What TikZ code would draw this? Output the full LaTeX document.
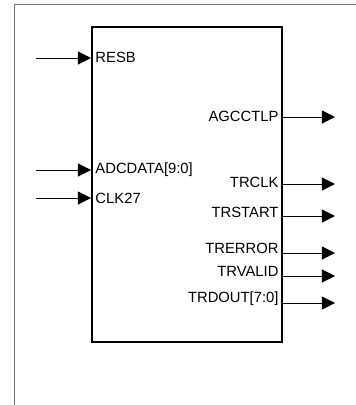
\documentclass[tikz,border=0pt]{standalone}
\usepackage{fontspec}
\setmainfont{Liberation Sans}
\usetikzlibrary{arrows.meta}

\begin{document}
\begin{tikzpicture}[x=0.75pt, y=-0.75pt, line width=0.75pt,
  % port arrows: thin line, filled head
  pin/.style={-{Triangle[length=9.75pt, width=9.75pt]}},
  % block outline
  block/.style={draw, line width=1.5pt, minimum width=142.5pt, minimum height=236.25pt,
                inner sep=0pt},
  % port labels
  inlbl/.style={anchor=west, inner xsep=3pt, inner ysep=0pt, font=\fontsize{11.1}{13}\selectfont},
  outlbl/.style={anchor=east, inner xsep=3pt, inner ysep=0pt, font=\fontsize{11.1}{13}\selectfont}
]
  \useasboundingbox (0,0) rectangle (356,405);

  % Outer frame (only top and left edges visible)
  \coordinate (frame) at (15,4.5);
  \draw[black!55] (frame -| 356,0) -- (frame) -- (frame |- 0,405);

  % Main block
  \node[block] (blk) at (187,184.5) {};

  % Input labels
  \node[inlbl] (resb)    at (blk.west |- 0,57)  {RESB};
  \node[inlbl] (adcdata) at (blk.west |- 0,170) {ADCDATA[9:0]};
  \node[inlbl] (clk27)   at (blk.west |- 0,198) {CLK27};

  % Output labels
  \node[outlbl] (agcctlp) at (blk.east |- 0,116)   {AGCCTLP};
  \node[outlbl] (trclk)   at (blk.east |- 0,182.5) {TRCLK};
  \node[outlbl] (trstart) at (blk.east |- 0,212.5) {TRSTART};
  \node[outlbl] (trerror) at (blk.east |- 0,248.5) {TRERROR};
  \node[outlbl] (trvalid) at (blk.east |- 0,271.5) {TRVALID};
  \node[outlbl] (trdout)  at (blk.east |- 0,299)   {TRDOUT[7:0]};

  % --- Input arrows ---
  \coordinate (resb_in)    at (36,58);
  \coordinate (adcdata_in) at (36,170);
  \coordinate (clk27_in)   at (36,198);
  \draw[pin] (resb_in)    -- (resb_in -| blk.west);
  \draw[pin] (adcdata_in) -- (adcdata_in -| blk.west);
  \draw[pin] (clk27_in)   -- (clk27_in -| blk.west);

  % --- Output arrows ---
  \coordinate (agcctlp_out) at (335,117);
  \coordinate (trclk_out)   at (335,184);
  \coordinate (trstart_out) at (335,216);
  \coordinate (trerror_out) at (335,253);
  \coordinate (trvalid_out) at (335,276);
  \coordinate (trdout_out)  at (335,303);
  \draw[pin] (agcctlp_out -| blk.east) -- (agcctlp_out);
  \draw[pin] (trclk_out -| blk.east)   -- (trclk_out);
  \draw[pin] (trstart_out -| blk.east) -- (trstart_out);
  \draw[pin] (trerror_out -| blk.east) -- (trerror_out);
  \draw[pin] (trvalid_out -| blk.east) -- (trvalid_out);
  \draw[pin] (trdout_out -| blk.east)  -- (trdout_out);

\end{tikzpicture}
\end{document}
